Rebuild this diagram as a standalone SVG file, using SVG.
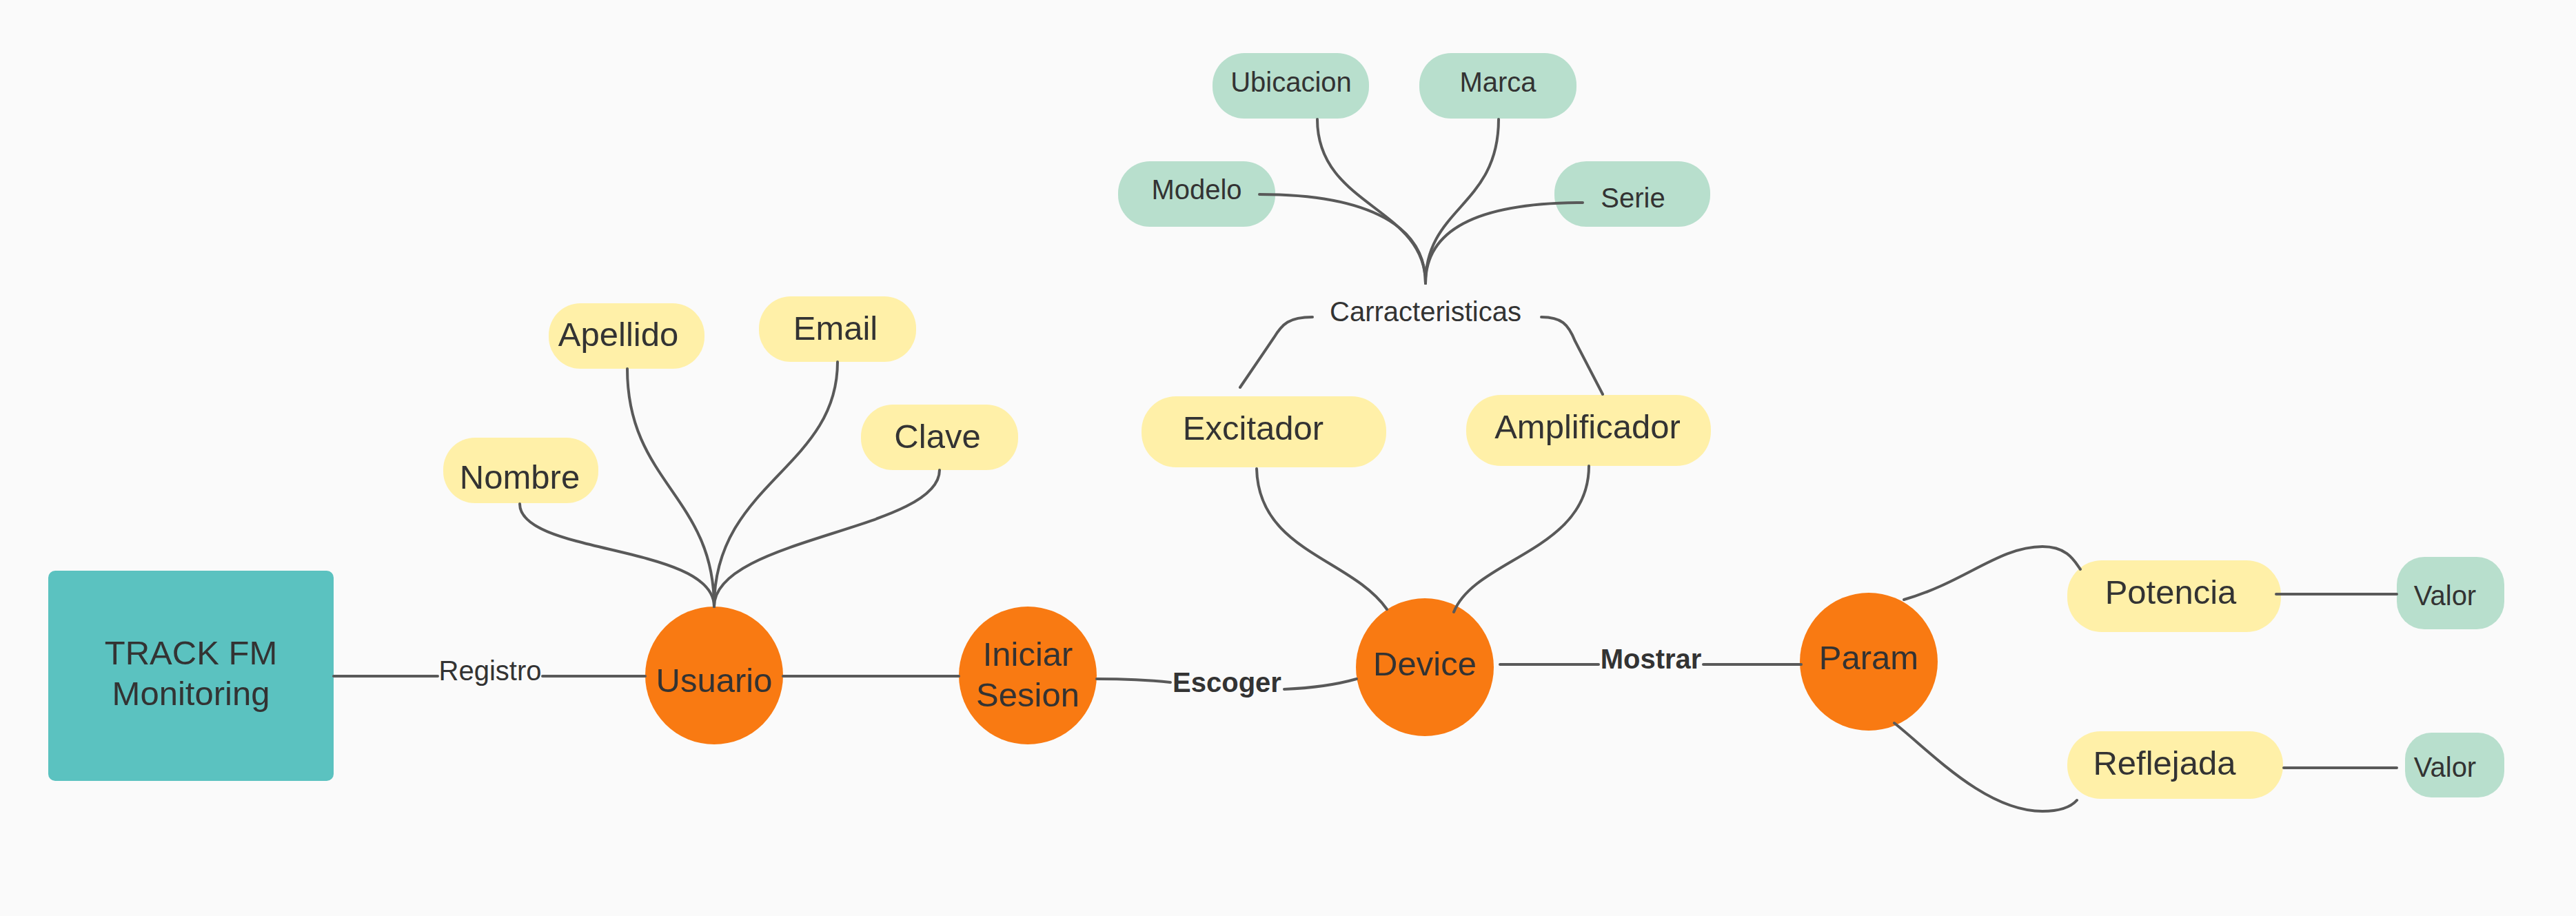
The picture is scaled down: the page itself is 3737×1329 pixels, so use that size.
<svg xmlns="http://www.w3.org/2000/svg" width="3737" height="1329" viewBox="0 0 3737 1329">
<style>
.t{font-family:"Liberation Sans",Arial,sans-serif;fill:#333333;text-anchor:middle}
.big{font-size:49px}
.sm{font-size:40px}
.b{font-weight:bold}
.y{fill:#FFF0A8}
.g{fill:#B8DFCD}
.o{fill:#F97A12}
.c{fill:none;stroke:#595959;stroke-width:4;stroke-linecap:round}
</style>
<rect width="3737" height="1329" fill="#FAFAFA"/>
<g id="track">
<rect x="70" y="828" width="414" height="305" rx="10" fill="#5BC2C0"/>
<text class="t big" x="277" y="964">TRACK FM</text>
<text class="t big" x="277" y="1023">Monitoring</text>
</g>
<g id="usuario"><circle class="o" cx="1036" cy="980" r="100"/><text class="t big" x="1036" y="1004">Usuario</text></g>
<g id="iniciar"><circle class="o" cx="1491" cy="980" r="100"/><text class="t big" x="1491" y="966">Iniciar</text><text class="t big" x="1491" y="1025">Sesion</text></g>
<g id="device"><circle class="o" cx="2067" cy="968" r="100"/><text class="t big" x="2067" y="980">Device</text></g>
<g id="param"><circle class="o" cx="2711" cy="960" r="100"/><text class="t big" x="2711" y="971">Param</text></g>
<g id="nombre"><rect class="y" x="643" y="635" width="225" height="95" rx="46"/><text class="t big" x="754" y="709">Nombre</text></g>
<g id="apellido"><rect class="y" x="796" y="440" width="226" height="95" rx="46"/><text class="t big" x="897" y="502">Apellido</text></g>
<g id="email"><rect class="y" x="1101" y="430" width="228" height="95" rx="46"/><text class="t big" x="1212" y="493">Email</text></g>
<g id="clave"><rect class="y" x="1249" y="587" width="228" height="95" rx="46"/><text class="t big" x="1360" y="650">Clave</text></g>
<g id="excitador"><rect class="y" x="1656" y="575" width="355" height="103" rx="50"/><text class="t big" x="1818" y="638">Excitador</text></g>
<g id="amplificador"><rect class="y" x="2127" y="573" width="355" height="103" rx="50"/><text class="t big" x="2303" y="636">Amplificador</text></g>
<g id="carracteristicas"><text class="t sm" x="2068" y="466">Carracteristicas</text></g>
<g id="ubicacion"><rect class="g" x="1759" y="77" width="227" height="95" rx="46"/><text class="t sm" x="1873" y="133">Ubicacion</text></g>
<g id="marca"><rect class="g" x="2059" y="77" width="228" height="95" rx="46"/><text class="t sm" x="2173" y="133">Marca</text></g>
<g id="modelo"><rect class="g" x="1622" y="234" width="228" height="95" rx="46"/><text class="t sm" x="1736" y="289">Modelo</text></g>
<g id="serie"><rect class="g" x="2255" y="234" width="226" height="95" rx="46"/><text class="t sm" x="2369" y="301">Serie</text></g>
<g id="potencia"><rect class="y" x="2999" y="813" width="310" height="104" rx="50"/><text class="t big" x="3149" y="876">Potencia</text></g>
<g id="reflejada"><rect class="y" x="2999" y="1061" width="313" height="98" rx="48"/><text class="t big" x="3140" y="1124">Reflejada</text></g>
<g id="valor1"><rect class="g" x="3477" y="808" width="156" height="105" rx="40"/><text class="t sm" x="3547" y="878">Valor</text></g>
<g id="valor2"><rect class="g" x="3489" y="1063" width="144" height="94" rx="38"/><text class="t sm" x="3547" y="1127">Valor</text></g>
<g id="connectors">
<path class="c" d="M484,981 L635,981 M787,981 L936,981"/>
<path class="c" d="M754,731 C754,805 1036,790 1036,880"/>
<path class="c" d="M910,535 C910,700 1036,720 1036,880"/>
<path class="c" d="M1215,525 C1215,680 1036,700 1036,880"/>
<path class="c" d="M1363,682 C1363,770 1036,780 1036,880"/>
<path class="c" d="M1136,981 L1391,981"/>
<path class="c" d="M1591,985 C1640,985 1670,987 1698,990"/>
<path class="c" d="M1863,1000 C1910,998 1940,993 1968,985"/>
<path class="c" d="M2176,964 L2319,964 M2471,964 L2613,964"/>
<path class="c" d="M1823,680 C1826,800 1960,810 2012,884"/>
<path class="c" d="M2305,676 C2305,800 2140,810 2109,888"/>
<path class="c" d="M1904,460 C1870,460 1860,470 1848,490 L1799,562"/>
<path class="c" d="M2236,460 C2265,460 2275,470 2285,495 L2325,572"/>
<path class="c" d="M1827,282 C1990,282 2068,330 2068,411"/>
<path class="c" d="M1911,173 C1911,300 2068,300 2068,411"/>
<path class="c" d="M2174,173 C2174,300 2068,300 2068,411"/>
<path class="c" d="M2296,294 C2150,294 2068,330 2068,411"/>
<path class="c" d="M2762,870 C2850,845 2900,793 2963,793 C3000,793 3010,815 3018,826"/>
<path class="c" d="M2748,1049 C2800,1090 2880,1177 2963,1177 C2990,1177 3005,1170 3013,1161"/>
<path class="c" d="M3302,862 L3477,862"/>
<path class="c" d="M3313,1114 L3477,1114"/>
<text class="t sm" x="711" y="987">Registro</text>
<text class="t sm b" x="1780" y="1004">Escoger</text>
<text class="t sm b" x="2395" y="970">Mostrar</text>
</g>
</svg>
